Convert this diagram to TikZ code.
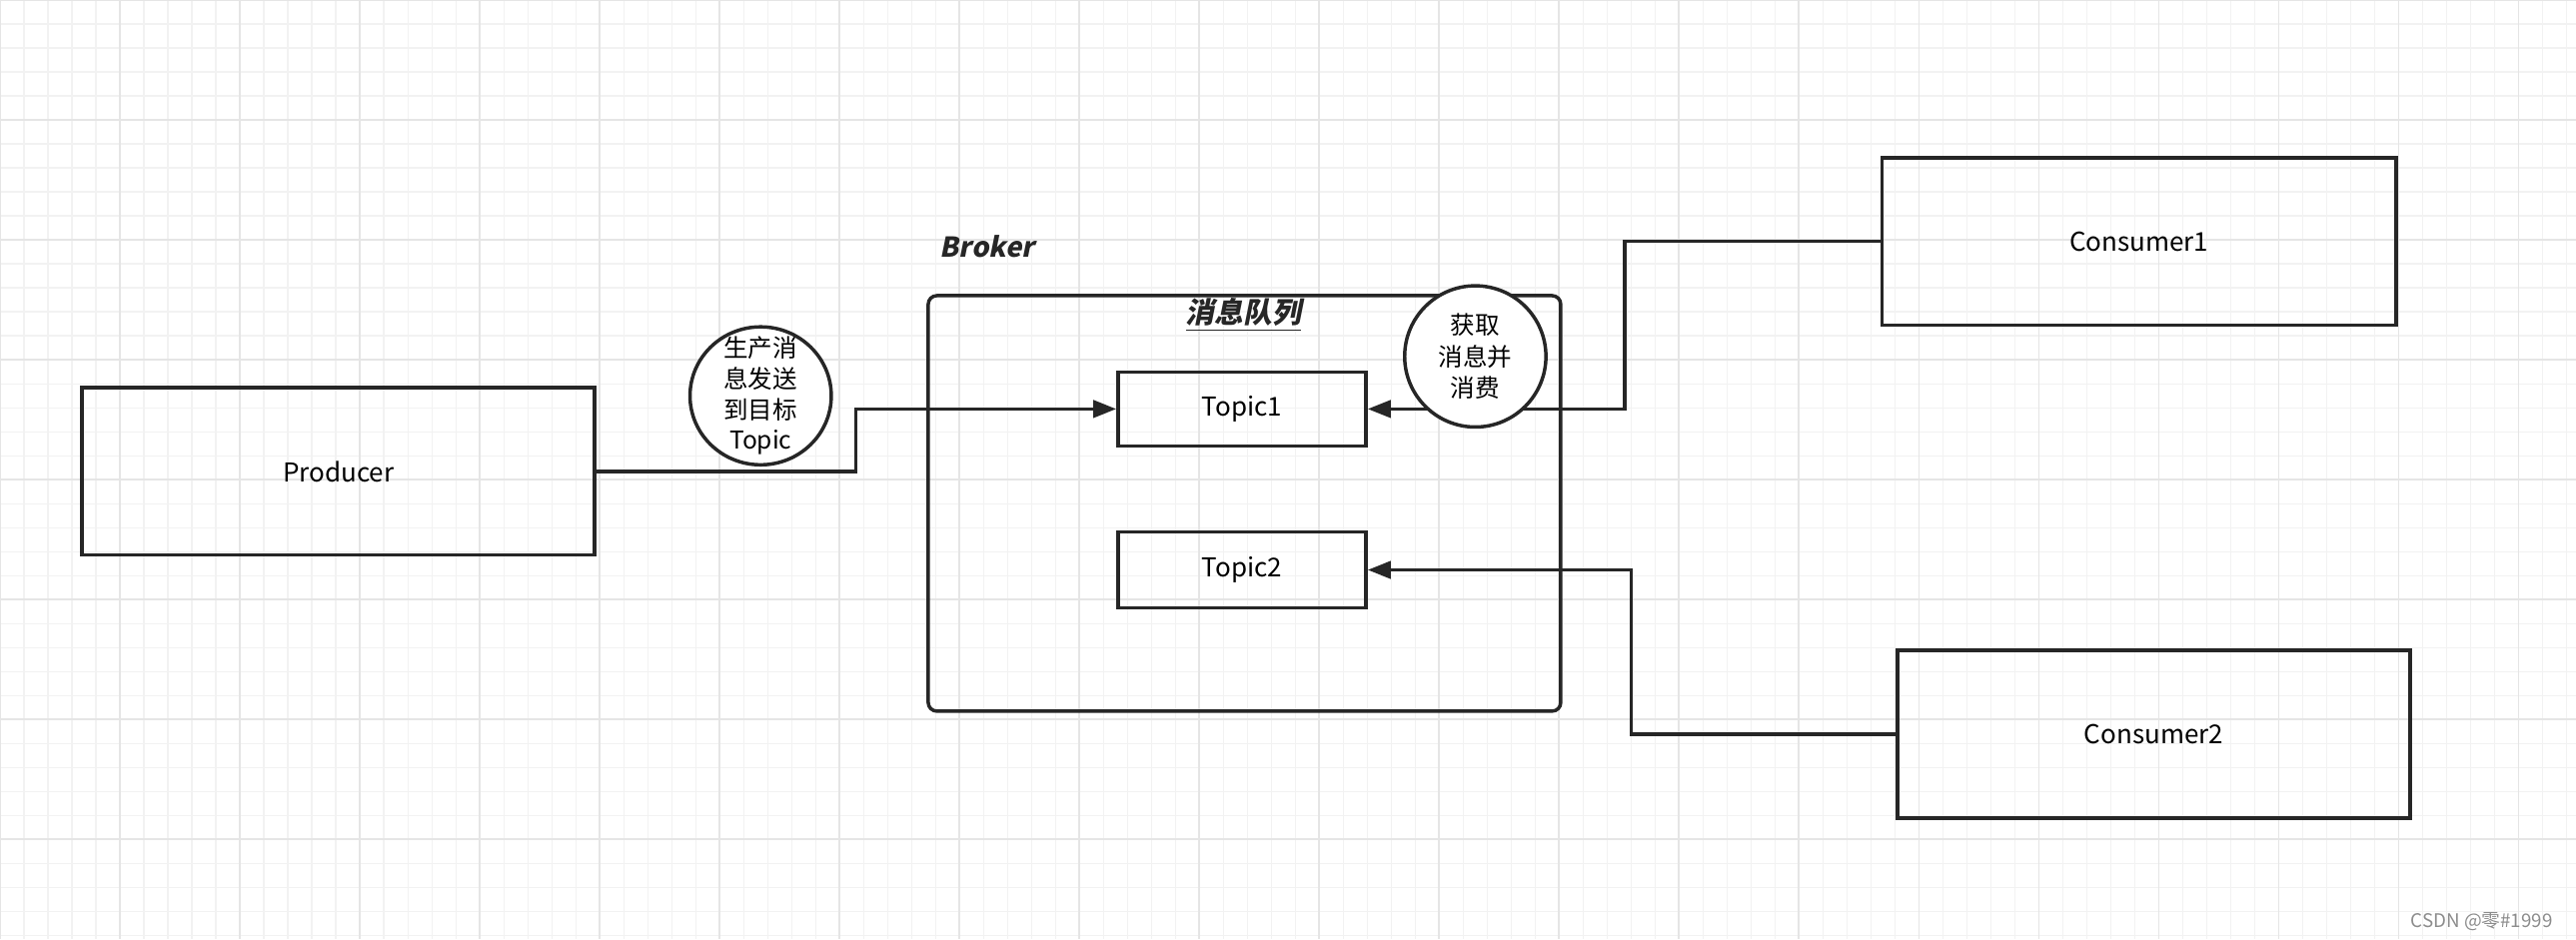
\documentclass[tikz,border=0pt]{standalone}
\usepackage{fontspec}
\setmainfont{Noto Sans CJK SC}
\newfontfamily\slbf[FakeSlant=0.2,BoldFeatures={FakeSlant=0.2}]{Noto Sans CJK SC}
\usetikzlibrary{arrows.meta}
\begin{document}
\begin{tikzpicture}[x=0.02cm,y=-0.02cm,
  box/.style={draw=black!85,line width=1.2pt,inner sep=0pt,font=\fontsize{9}{11}\selectfont},
  con/.style={draw=black!85,line width=1.2pt,-{Triangle[length=8pt,width=6pt]}}]
\useasboundingbox (0,0) rectangle (1568,572);
\fill[white] (0,0) rectangle (1568,572);
\foreach \x in {0,14.6,...,1568} \draw[black!5,line width=0.4pt] (\x,0) -- (\x,572);
\foreach \y in {0,14.6,...,572} \draw[black!5,line width=0.4pt] (0,\y) -- (1568,\y);
\foreach \x in {0,73,...,1568} \draw[black!10,line width=0.6pt] (\x,0) -- (\x,572);
\foreach \y in {0,73,...,572} \draw[black!10,line width=0.6pt] (0,\y) -- (1568,\y);
\node[box,minimum width=312*0.02cm,minimum height=102*0.02cm] (prod) at (206,287) {Producer};
\node[font=\slbf\bfseries\fontsize{9.5}{11}\selectfont,text=black!85] (brokerlbl) at (601,150) {Broker};
\draw[black!85,line width=1.2pt,rounded corners=3pt] (565,180) rectangle (950,433);
\node[font=\slbf\bfseries\fontsize{10}{12}\selectfont,text=black!85] (mq) at (757,192) {\underline{消息队列}};
\node[box,minimum width=151*0.02cm,minimum height=45*0.02cm] (t1) at (756,249) {Topic1};
\node[box,minimum width=151*0.02cm,minimum height=46*0.02cm] (t2) at (756,347) {Topic2};
\node[box,minimum width=313*0.02cm,minimum height=102*0.02cm] (c1) at (1302,147) {Consumer1};
\node[box,minimum width=312*0.02cm,minimum height=102*0.02cm] (c2) at (1311,447) {Consumer2};
\draw[con] (prod.east) -- (521,287) -- (521,249) -- (t1.west);
\draw[con] (c1.west) -- (989,147) -- (989,249) -- (t1.east);
\draw[con] (c2.west) -- (993,447) -- (993,347) -- (t2.east);
\draw[black!85,line width=1.2pt,fill=white] (463,241) ellipse (43 and 42);
\node[align=center,font=\fontsize{8.5}{10.6}\selectfont] (b1) at (463,241) {生产消\\息发送\\到目标\\Topic};
\draw[black!85,line width=1.2pt,fill=white] (898,217) ellipse (43 and 43);
\node[align=center,font=\fontsize{8.5}{11}\selectfont] (b2) at (898,217) {获取\\消息并\\消费};
\node[anchor=east,text=black!45,font=\fontsize{6.5}{8}\selectfont] (wm) at (1560,561) {CSDN @零\#1999};
\end{tikzpicture}
\end{document}
